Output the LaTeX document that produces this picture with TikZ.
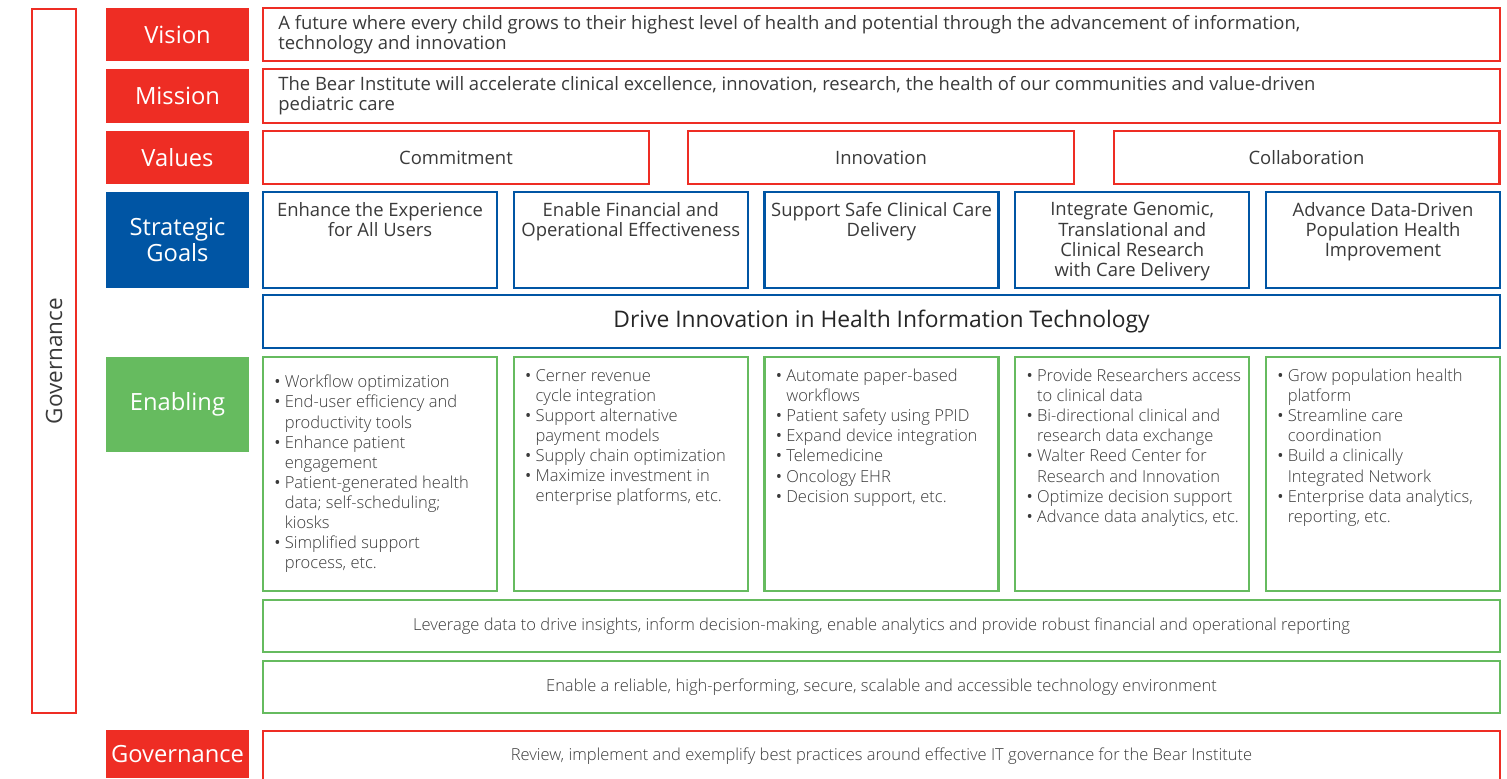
\documentclass[tikz,border=0pt]{standalone}
\usepackage{fontspec}
\setmainfont{Open Sans}
\newfontfamily\lightfont{Open Sans Light}
\usetikzlibrary{positioning}

\definecolor{bearred}{HTML}{EE2D24}
\definecolor{bearblue}{HTML}{0055A4}
\definecolor{beargreen}{HTML}{66BB5F}
\definecolor{bodytext}{HTML}{3A3A3A}

\newcommand{\bul}{{\rmfamily\textbullet}\ }
\newcommand{\ind}{\hphantom{{\rmfamily\textbullet}\ }}

\begin{document}
\begin{tikzpicture}[
  x=0.02cm, y=-0.02cm,
  every node/.style={inner sep=0pt, text=bodytext, font=\fontsize{10.5}{11.5}\selectfont},
  tag/.style={fill=#1, text=white, minimum width=2.86cm, align=center,
              font=\fontsize{13.5}{14.5}\selectfont},
  panel/.style={draw=#1, line width=1.2pt, fill=white},
  item/.style={align=left, font=\lightfont\fontsize{9.4}{11.4}\selectfont}
]
\useasboundingbox (0,0) rectangle (1507,778);
\clip (0,0) rectangle (1507,778);

% governance frame on the left
\node[panel=bearred, rotate=90, minimum width=14.08cm, minimum height=0.88cm,
      font=\fontsize{12.8}{14}\selectfont] (govframe) at (54,361) {Governance};

% row labels
\node[tag=bearred, minimum height=1.06cm] (vision) at (177.5,34.5) {Vision};
\node[tag=bearred, minimum height=1.08cm] (mission) at (177.5,96) {Mission};
\node[tag=bearred, minimum height=1.06cm] (values) at (177.5,157.5) {Values};
\node[tag=bearblue, minimum height=1.92cm] (goals) at (177.5,240) {Strategic\\Goals};
\node[tag=beargreen, minimum height=1.90cm] (enabling) at (177.5,404.5) {Enabling};
\node[tag=bearred, minimum height=0.96cm] (govern) at (177.5,754) {Governance};

% vision and mission
\node[panel=bearred, minimum width=24.74cm, minimum height=1.06cm] (visionbox) at (881.5,34.5) {};
\node[anchor=west, align=left] (visiontext) at (278,34.5)
  {A future where every child grows to their highest level of health and potential through the advancement of information,\\
   technology and innovation};
\node[panel=bearred, minimum width=24.74cm, minimum height=1.08cm] (missionbox) at (881.5,96) {};
\node[anchor=west, align=left] (missiontext) at (278,96)
  {The Bear Institute will accelerate clinical excellence, innovation, research, the health of our communities and value-driven\\
   pediatric care};

% values
\node[panel=bearred, minimum width=7.72cm, minimum height=1.06cm] (commit) at (456,157.5) {Commitment};
\node[panel=bearred, minimum width=7.72cm, minimum height=1.06cm] (innov) at (881,157.5) {Innovation};
\node[panel=bearred, minimum width=7.72cm, minimum height=1.06cm] (collab) at (1306.5,157.5) {Collaboration};

% strategic goals
\foreach \cx [count=\i] in {380,630.75,881.5,1132.25,1383}
  \node[panel=bearblue, minimum width=4.68cm, minimum height=1.92cm] (goal\i) at (\cx,240) {};
\node[below=0.22cm of goal1.north, align=center] (goal1text) {Enhance the Experience\\for All Users};
\node[below=0.22cm of goal2.north, align=center] (goal2text) {Enable Financial and\\Operational Effectiveness};
\node[below=0.22cm of goal3.north, align=center] (goal3text) {Support Safe Clinical Care\\Delivery};
\node[below=0.22cm of goal4.north, align=center] (goal4text) {Integrate Genomic,\\Translational and\\Clinical Research\\with Care Delivery};
\node[below=0.22cm of goal5.north, align=center] (goal5text) {Advance Data-Driven\\Population Health\\Improvement};

\node[panel=bearblue, minimum width=24.74cm, minimum height=1.06cm,
      font=\fontsize{13}{14}\selectfont, text=black!85] (drive) at (881.5,321.5)
  {Drive Innovation in Health Information Technology};

% enabling initiatives
\foreach \cx [count=\i] in {380,630.75,881.5,1132.25,1383}
  \node[panel=beargreen, minimum width=4.68cm, minimum height=4.68cm] (enab\i) at (\cx,474) {};
\node[item, below right=0.38cm and 0.24cm of enab1.north west] (enab1text)
  {\bul Workflow optimization\\
   \bul End-user efficiency and\\
   \ind productivity tools\\
   \bul Enhance patient\\
   \ind engagement\\
   \bul Patient-generated health\\
   \ind data; self-scheduling;\\
   \ind kiosks\\
   \bul Simplified support\\
   \ind process, etc.};
\node[item, below right=0.26cm and 0.24cm of enab2.north west] (enab2text)
  {\bul Cerner revenue\\
   \ind cycle integration\\
   \bul Support alternative\\
   \ind payment models\\
   \bul Supply chain optimization\\
   \bul Maximize investment in\\
   \ind enterprise platforms, etc.};
\node[item, below right=0.26cm and 0.24cm of enab3.north west] (enab3text)
  {\bul Automate paper-based\\
   \ind workflows\\
   \bul Patient safety using PPID\\
   \bul Expand device integration\\
   \bul Telemedicine\\
   \bul Oncology EHR\\
   \bul Decision support, etc.};
\node[item, below right=0.26cm and 0.24cm of enab4.north west] (enab4text)
  {\bul Provide Researchers access\\
   \ind to clinical data\\
   \bul Bi-directional clinical and\\
   \ind research data exchange\\
   \bul Walter Reed Center for\\
   \ind Research and Innovation\\
   \bul Optimize decision support\\
   \bul Advance data analytics, etc.};
\node[item, below right=0.26cm and 0.24cm of enab5.north west] (enab5text)
  {\bul Grow population health\\
   \ind platform\\
   \bul Streamline care\\
   \ind coordination\\
   \bul Build a clinically\\
   \ind Integrated Network\\
   \bul Enterprise data analytics,\\
   \ind reporting, etc.};

\node[panel=beargreen, item, minimum width=24.74cm, minimum height=1.04cm] (insight) at (881.5,626)
  {Leverage data to drive insights, inform decision-making, enable analytics and provide robust financial and operational reporting};
\node[panel=beargreen, item, minimum width=24.74cm, minimum height=1.04cm] (platform) at (881.5,687)
  {Enable a reliable, high-performing, secure, scalable and accessible technology environment};

% governance row
\node[panel=bearred, anchor=north, minimum width=24.74cm, minimum height=1.4cm] (governbox) at (881.5,730) {};
\node[item] (governtext) at (881.5,756)
  {Review, implement and exemplify best practices around effective IT governance for the Bear Institute};
\end{tikzpicture}
\end{document}
